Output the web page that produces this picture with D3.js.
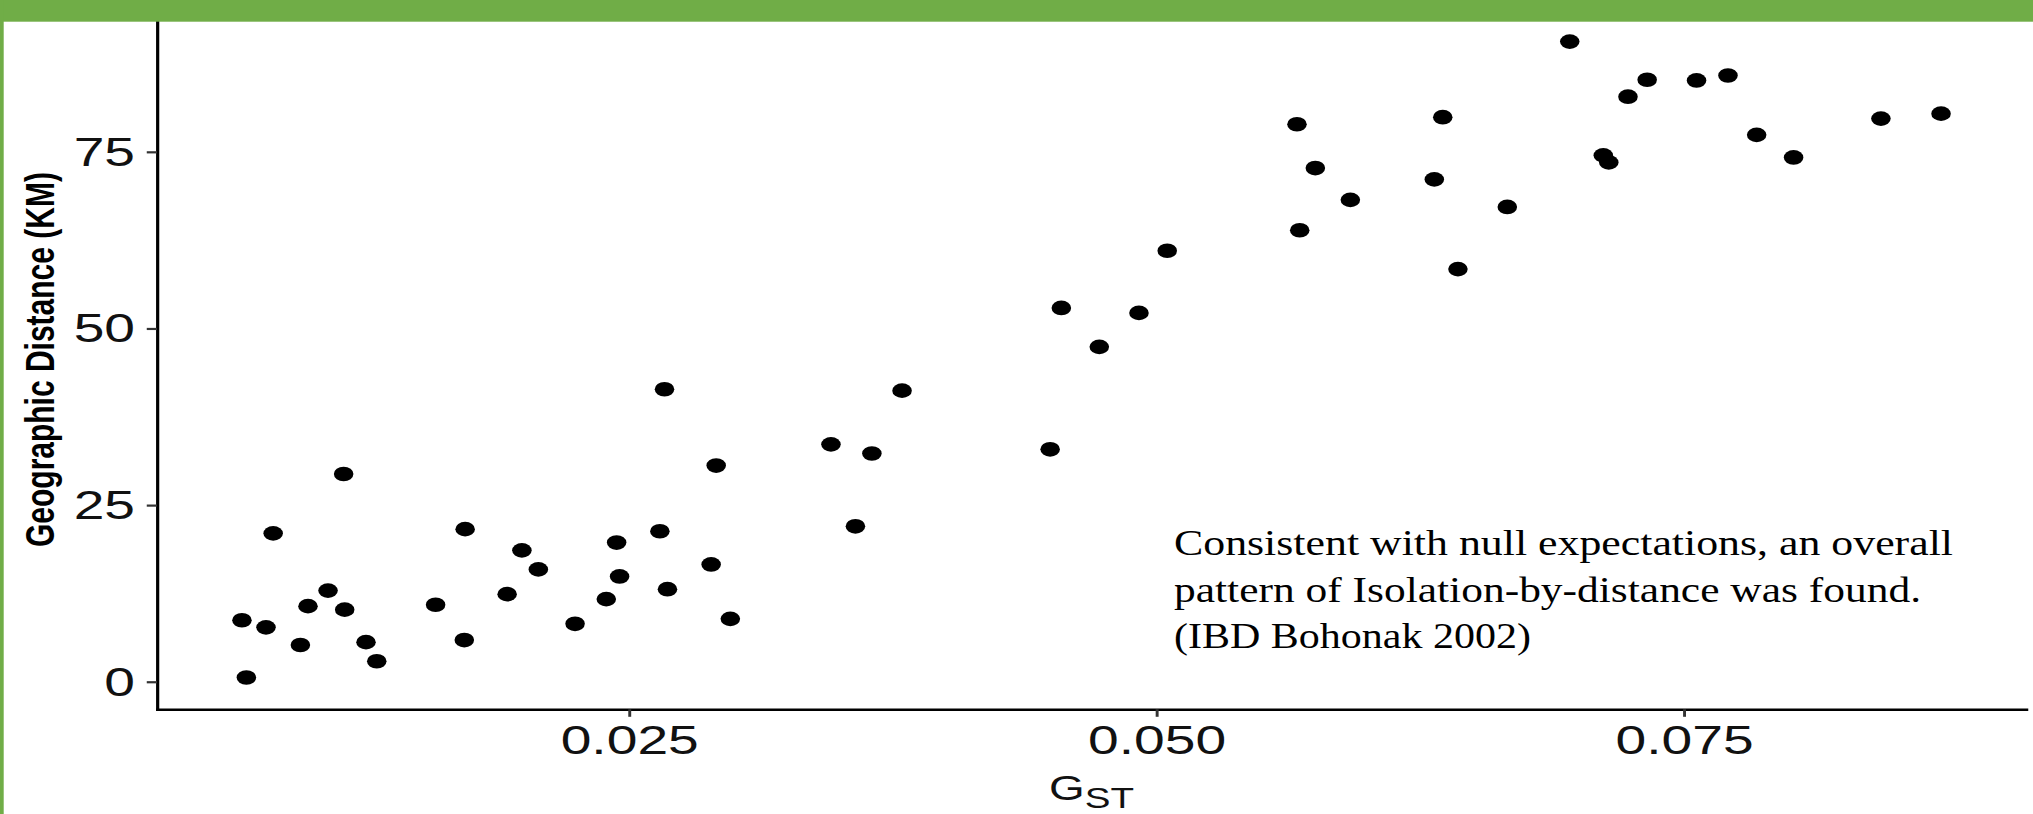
<!DOCTYPE html>
<html>
<head>
<meta charset="utf-8">
<script src="https://cdn.jsdelivr.net/npm/d3@7"></script>
<style>
  html, body { margin: 0; padding: 0; background: #fff; }
  svg { display: block; }
</style>
</head>
<body>
<svg id="chart" width="2033" height="814"></svg>
<script>
// G_ST values (x) and geographic distance in km (y), one entry per pair of sites
const gst = [0.00665, 0.00686, 0.00779, 0.00813, 0.00942, 0.00978, 0.01073, 0.01147, 0.01152, 0.01253,
  0.01304, 0.01583, 0.01723, 0.01719, 0.01922, 0.01992, 0.02070, 0.02244, 0.02392, 0.02441,
  0.02455, 0.02646, 0.02668, 0.02682, 0.02889, 0.02913, 0.02980, 0.03457, 0.03573, 0.03651,
  0.03794, 0.04496, 0.04549, 0.04729, 0.04917, 0.05051, 0.05666, 0.05679, 0.05753, 0.05919,
  0.06317, 0.06357, 0.06429, 0.06663, 0.06959, 0.07118, 0.07144, 0.07235, 0.07326, 0.07560,
  0.07709, 0.07845, 0.08020, 0.08434, 0.08719];
const distance = [8.7, 0.6, 7.7, 21.0, 5.2, 10.7, 12.9, 29.4, 10.2, 5.6,
  2.9, 10.9, 21.6, 5.9, 12.4, 18.6, 15.9, 8.2, 11.7, 19.7,
  14.9, 21.3, 41.4, 13.1, 16.6, 30.6, 8.9, 33.6, 22.0, 32.3,
  41.2, 32.9, 52.9, 47.4, 52.2, 61.0, 78.9, 63.9, 72.7, 68.2,
  71.1, 79.9, 58.4, 67.2, 90.6, 74.5, 73.5, 82.8, 85.2, 85.1,
  85.8, 77.4, 74.2, 79.7, 80.4];
const xTicks = [0.025, 0.050, 0.075];
const yTicks = [0, 25, 50, 75];
const note = [
  "Consistent with null expectations, an overall",
  "pattern of Isolation-by-distance was found.",
  "(IBD Bohonak 2002)"
];

// the R plot was pasted into the slide stretched sideways
const SX = 1.33;
const green = "#70AD47";

const svg = d3.select("#chart");

// ggplot style 5% padding on both axes
function expand(ext) {
  const pad = (ext[1] - ext[0]) * 0.05;
  return [ext[0] - pad, ext[1] + pad];
}

const x = d3.scaleLinear().domain(expand(d3.extent(gst))).range([157 / SX, 2026 / SX]);
const y = d3.scaleLinear().domain(expand(d3.extent(distance))).range([709.3, 9.8]);

const plot = svg.append("g").attr("transform", `scale(${SX},1)`);

const xAxis = plot.append("g")
  .attr("transform", `translate(0,${y.range()[0]})`)
  .call(d3.axisBottom(x).tickValues(xTicks).tickFormat(d3.format(".3f"))
    .tickSize(7.5).tickSizeOuter(0).tickPadding(8.2));

const yAxis = plot.append("g")
  .attr("transform", `translate(${x.range()[0]},0)`)
  .call(d3.axisLeft(y).tickValues(yTicks).tickFormat(d3.format("d"))
    .tickSize(7.7).tickSizeOuter(0).tickPadding(8.8));

for (let ax of [xAxis, yAxis]) {
  ax.select(".domain").attr("stroke", "#000").attr("stroke-width", 2.4).attr("stroke-linecap", "square");
  ax.selectAll(".tick line").attr("stroke", "#333").attr("stroke-width", 2.2);
  ax.selectAll(".tick text")
    .attr("fill", "#111")
    .style("font-family", "'Liberation Sans', Arial, sans-serif")
    .style("font-size", "41.5px");
}

// points
plot.append("g").selectAll("circle")
  .data(gst)
  .join("circle")
  .attr("cx", (d, i) => x(d))
  .attr("cy", (d, i) => y(distance[i]))
  .attr("r", 7.35)
  .attr("fill", "#000");

// y title
plot.append("text")
  .attr("transform", `translate(40.4,${(y.range()[0] + y.range()[1]) / 2}) rotate(-90)`)
  .attr("text-anchor", "middle")
  .style("font-family", "'Liberation Sans', Arial, sans-serif")
  .style("font-weight", "bold")
  .style("font-size", "30px")
  .attr("fill", "#000")
  .text("Geographic Distance (KM)");

// x title G subscript ST
const xt = plot.append("text")
  .attr("x", (x.range()[0] + x.range()[1]) / 2)
  .attr("y", 800)
  .attr("text-anchor", "middle")
  .style("font-family", "'Liberation Sans', Arial, sans-serif")
  .style("font-size", "29px")
  .attr("fill", "#111");
xt.append("tspan").style("font-size", "34.5px").text("G");
xt.append("tspan").style("font-size", "29px").attr("dy", 7.6).text("ST");

// slide text box
const noteWidths = [779, 747, 357];
svg.append("g").selectAll("text")
  .data(note)
  .join("text")
  .attr("x", 1174)
  .attr("y", (d, i) => 555 + i * 46.7)
  .attr("textLength", (d, i) => noteWidths[i])
  .attr("lengthAdjust", "spacingAndGlyphs")
  .style("font-family", "'Liberation Serif', 'Times New Roman', serif")
  .style("font-size", "36px")
  .attr("fill", "#000")
  .text(d => d);

// slide frame: green band on top and thin strip on the left
svg.append("rect").attr("x", 0).attr("y", 0).attr("width", 2033).attr("height", 21.7).attr("fill", green);
svg.append("rect").attr("x", 0).attr("y", 0).attr("width", 3.7).attr("height", 814).attr("fill", green);
</script>
</body>
</html>
